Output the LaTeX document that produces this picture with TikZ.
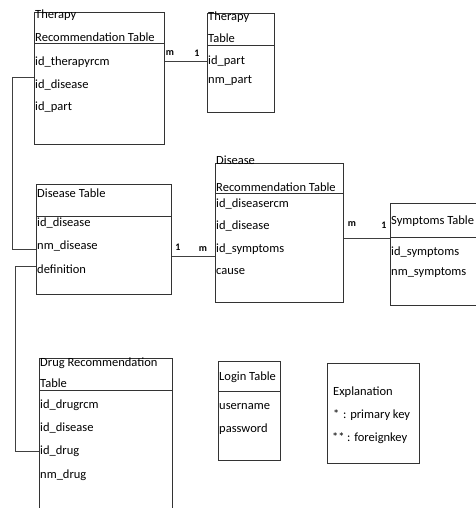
\documentclass[tikz,border=0pt]{standalone}
\usepackage{fontspec}
\setmainfont{Carlito}
\begin{document}
\begin{tikzpicture}[x=1pt,y=-1pt,
  tbl/.style={draw=black!80,line width=0.8pt,anchor=north west,inner sep=0pt},
  txt/.style={anchor=west,inner xsep=1pt,inner ysep=0pt,font=\fontsize{12.5}{14}\selectfont,text=black},
  lbl/.style={inner sep=0pt,font=\fontsize{10}{12}\selectfont\bfseries},
  hline/.style={draw=black!80,line width=0.8pt},
  conn/.style={draw=black!75,line width=0.8pt}]
\useasboundingbox[fill=white] (0,0) rectangle (475,508);

% Therapy Recommendation Table
\node[tbl,minimum width=130pt,minimum height=132pt] (trc) at (34,12) {};
\node[txt] (trc-h1) at (34,15) {Therapy};
\node[txt] (trc-h2) at (34,37) {Recommendation Table};
\draw[hline] (trc.west |- 0,43) -- (trc.east |- 0,43);
\node[txt] (trc-r1) at (34,62) {id\_therapyrcm};
\node[txt] (trc-r2) at (34,85) {id\_disease};
\node[txt] (trc-r3) at (34,107) {id\_part};

% Therapy Table
\node[tbl,minimum width=67pt,minimum height=99pt] (tt) at (207,13) {};
\node[txt] (tt-h1) at (207,17) {Therapy};
\node[txt] (tt-h2) at (207,38) {Table};
\draw[hline] (tt.west |- 0,45) -- (tt.east |- 0,45);
\node[txt] (tt-r1) at (207,61) {id\_part};
\node[txt] (tt-r2) at (207,81) {nm\_part};

% Disease Table
\node[tbl,minimum width=135pt,minimum height=110pt] (dt) at (36,184) {};
\node[txt] (dt-h) at (36,193) {Disease Table};
\draw[hline] (dt.west |- 0,216) -- (dt.east |- 0,216);
\node[txt] (dt-r1) at (36,223) {id\_disease};
\node[txt] (dt-r2) at (36,246) {nm\_disease};
\node[txt] (dt-r3) at (36,269) {definition};

% Disease Recommendation Table
\node[tbl,minimum width=128pt,minimum height=139pt] (drt) at (215,163) {};
\node[txt] (drt-h1) at (215,160) {Disease};
\node[txt] (drt-h2) at (215,187) {Recommendation Table};
\draw[hline] (drt.west |- 0,193) -- (drt.east |- 0,193);
\node[txt] (drt-r1) at (215,204) {id\_diseasercm};
\node[txt] (drt-r2) at (215,226) {id\_disease};
\node[txt] (drt-r3) at (215,249) {id\_symptoms};
\node[txt] (drt-r4) at (215,272) {cause};

% Symptoms Table
\node[tbl,minimum width=95pt,minimum height=102pt] (st) at (390,203) {};
\node[txt] (st-h) at (390,221) {Symptoms Table};
\draw[hline] (st.west |- 0,237) -- (st.east |- 0,237);
\node[txt] (st-r1) at (390,252) {id\_symptoms};
\node[txt] (st-r2) at (390,273) {nm\_symptoms};

% Drug Recommendation Table
\node[tbl,minimum width=133pt,minimum height=155pt] (dgt) at (39,358) {};
\node[txt] (dgt-h1) at (39,363) {Drug Recommendation};
\node[txt] (dgt-h2) at (39,383) {Table};
\draw[hline] (dgt.west |- 0,390) -- (dgt.east |- 0,390);
\node[txt] (dgt-r1) at (39,405) {id\_drugrcm};
\node[txt] (dgt-r2) at (39,428) {id\_disease};
\node[txt] (dgt-r3) at (39,451) {id\_drug};
\node[txt] (dgt-r4) at (39,475) {nm\_drug};

% Login Table
\node[tbl,minimum width=62pt,minimum height=99pt] (lt) at (218,361) {};
\node[txt] (lt-h) at (218,377) {Login Table};
\draw[hline] (lt.west |- 0,391) -- (lt.east |- 0,391);
\node[txt] (lt-r1) at (218,407) {username};
\node[txt] (lt-r2) at (218,429) {password};

% Explanation
\node[tbl,minimum width=92pt,minimum height=100pt] (ex) at (327,363) {};
\node[txt] (ex-h) at (332,392) {Explanation};
\node[txt] (ex-s1) at (332,414) {*};
\node[txt] (ex-t1) at (342,415) {: primary key};
\node[txt] (ex-s2) at (331,437) {**};
\node[txt] (ex-t2) at (346,438) {: foreignkey};

% Connectors
\draw[conn] (trc.east |- 0,61) -- (tt.west |- 0,61);
\node[lbl] (m1) at (170,53) {m};
\node[lbl] (o1) at (197,53) {1};

\draw[conn] (dt.east |- 0,256) -- (drt.west |- 0,256);
\node[lbl] (o2) at (178,247) {1};
\node[lbl] (m2) at (203,249) {m};

\draw[conn] (drt.east |- 0,238) -- (st.west |- 0,238);
\node[lbl] (m3) at (352,224) {m};
\node[lbl] (o3) at (384,225) {1};

\coordinate (k1) at (12,77);
\draw[conn] (trc.west |- k1) -- (k1) |- (dt.west |- 0,249);
\coordinate (k2) at (15,266);
\draw[conn] (dt.west |- k2) -- (k2) |- (dgt.west |- 0,451);
\end{tikzpicture}
\end{document}
